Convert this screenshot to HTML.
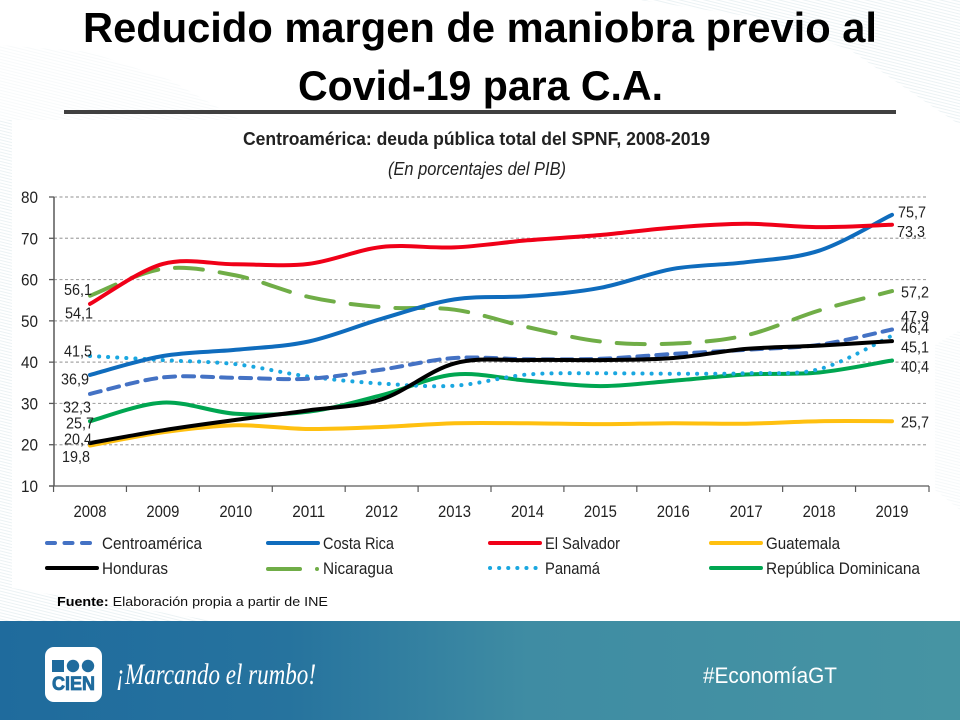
<!DOCTYPE html>
<html lang="es">
<head>
<meta charset="utf-8">
<title>Reducido margen de maniobra previo al Covid-19 para C.A.</title>
<style>
html,body{margin:0;padding:0;background:#fff;width:960px;height:720px;overflow:hidden}
svg{display:block}
text{font-family:"Liberation Sans",sans-serif;fill:#222}
</style>
</head>
<body>
<svg id="slide" xmlns="http://www.w3.org/2000/svg" width="960" height="720" viewBox="0 0 960 720">
  <defs>
    <pattern id="hatch" width="6" height="3" patternUnits="userSpaceOnUse" patternTransform="rotate(14)">
      <rect width="6" height="1" fill="#e3ecef"/>
    </pattern>
    <linearGradient id="footerGrad" x1="0" x2="1" y1="0" y2="0">
      <stop offset="0" stop-color="#1f6b9d"/>
      <stop offset="0.3" stop-color="#26739e"/>
      <stop offset="0.55" stop-color="#3f8ca3"/>
      <stop offset="1" stop-color="#4694a3"/>
    </linearGradient>
  </defs>
  <rect width="960" height="720" fill="#fff"/>
  <polygon points="0,45 90,52 170,80 240,120 0,120" fill="url(#hatch)" opacity=".3"/>
  <polygon points="640,0 960,0 960,125 930,105 850,50 760,18" fill="url(#hatch)" opacity=".7"/>
  <polygon points="0,120 12,120 12,588 215,621 0,621" fill="url(#hatch)" opacity=".7"/>
  <polygon points="935,345 960,330 960,510 935,490" fill="url(#hatch)" opacity=".35"/>

  <text x="83" y="42" font-size="42" font-weight="700" textLength="794" lengthAdjust="spacingAndGlyphs" style="fill:#000">Reducido margen de maniobra previo al</text>
  <text x="298" y="100" font-size="42" font-weight="700" textLength="365" lengthAdjust="spacingAndGlyphs" style="fill:#000">Covid-19 para C.A.</text>
  <rect x="64" y="110" width="832" height="4" fill="#404040"/>

  <rect x="12" y="120" width="923" height="468" fill="#fff"/>
  <text x="243" y="145" font-size="18" font-weight="700" textLength="467" lengthAdjust="spacingAndGlyphs">Centroamérica: deuda pública total del SPNF, 2008-2019</text>
  <text x="388" y="175" font-size="18" font-style="italic" textLength="178" lengthAdjust="spacingAndGlyphs">(En porcentajes del PIB)</text>

  <g id="grid"></g>
  <g id="axes"></g>
  <g id="lines"></g>
  <g id="labels"></g>

  <g font-size="16.5">
    <g>
      <line x1="47" x2="93" y1="543" y2="543" stroke="#4472c4" stroke-width="4" stroke-linecap="round" stroke-dasharray="8 9.5"/>
      <text x="102" y="549" textLength="100" lengthAdjust="spacingAndGlyphs">Centroamérica</text>
    </g>
    <g>
      <line x1="268" x2="318" y1="543" y2="543" stroke="#0f6cbd" stroke-width="4" stroke-linecap="round"/>
      <text x="323" y="549" textLength="71" lengthAdjust="spacingAndGlyphs">Costa Rica</text>
    </g>
    <g>
      <line x1="490" x2="540" y1="543" y2="543" stroke="#f00018" stroke-width="4" stroke-linecap="round"/>
      <text x="545" y="549" textLength="75" lengthAdjust="spacingAndGlyphs">El Salvador</text>
    </g>
    <g>
      <line x1="711" x2="761" y1="543" y2="543" stroke="#ffc010" stroke-width="4" stroke-linecap="round"/>
      <text x="766" y="549" textLength="74" lengthAdjust="spacingAndGlyphs">Guatemala</text>
    </g>
    <g>
      <line x1="47" x2="97" y1="568" y2="568" stroke="#000" stroke-width="4" stroke-linecap="round"/>
      <text x="102" y="574" textLength="66" lengthAdjust="spacingAndGlyphs">Honduras</text>
    </g>
    <g>
      <line x1="268" x2="300" y1="569" y2="569" stroke="#70ad47" stroke-width="4" stroke-linecap="round"/>
      <circle cx="317" cy="569" r="2" fill="#70ad47"/>
      <text x="323" y="574" textLength="70" lengthAdjust="spacingAndGlyphs">Nicaragua</text>
    </g>
    <g>
      <line x1="490" x2="537" y1="568" y2="568" stroke="#1aa7e0" stroke-width="4" stroke-linecap="round" stroke-dasharray="0.1 9"/>
      <text x="545" y="574" textLength="55" lengthAdjust="spacingAndGlyphs">Panamá</text>
    </g>
    <g>
      <line x1="711" x2="761" y1="568" y2="568" stroke="#00a651" stroke-width="4" stroke-linecap="round"/>
      <text x="766" y="574" textLength="154" lengthAdjust="spacingAndGlyphs">República Dominicana</text>
    </g>
  </g>

  <text x="57" y="606" font-size="13" textLength="271" lengthAdjust="spacingAndGlyphs" style="fill:#111"><tspan font-weight="700" style="fill:#000">Fuente:</tspan> Elaboración propia a partir de INE</text>

  <rect x="0" y="621" width="960" height="99" fill="url(#footerGrad)"/>
  <g>
    <rect x="45" y="647" width="57" height="55" rx="9" fill="#fff"/>
    <rect x="52" y="660" width="12" height="12" fill="#1f6b9d"/>
    <circle cx="73" cy="666" r="6.2" fill="#1f6b9d"/>
    <circle cx="88" cy="666" r="6.2" fill="#1f6b9d"/>
    <text x="52" y="690" font-size="19" font-weight="700" textLength="43" lengthAdjust="spacingAndGlyphs" style="fill:#1f6b9d;stroke:#1f6b9d;stroke-width:.8">CIEN</text>
  </g>
  <text x="116" y="684" font-size="30" textLength="200" lengthAdjust="spacingAndGlyphs" style="fill:#fff;font-family:'Liberation Serif',serif;font-style:italic">¡Marcando el rumbo!</text>
  <text x="703" y="683" font-size="22" textLength="134" lengthAdjust="spacingAndGlyphs" style="fill:#fff">#EconomíaGT</text>
</svg>

<script>
const years = [2008,2009,2010,2011,2012,2013,2014,2015,2016,2017,2018,2019];
const yTicks = [10,20,30,40,50,60,70,80];
const guatemala = [19.8,23.0,24.7,23.8,24.3,25.2,25.2,25.0,25.2,25.1,25.7,25.7];
const republicaDominicana = [25.7,30.2,27.5,28.0,32.0,37.0,35.5,34.2,35.5,37.0,37.5,40.4];
const panama = [41.5,40.5,39.5,36.5,34.8,34.3,37.0,37.3,37.2,37.3,38.3,46.4];
const centroamerica = [32.3,36.3,36.2,36.0,38.2,41.0,40.7,40.8,42.0,43.0,44.2,47.9];
const nicaragua = [56.1,62.6,61.0,55.8,53.3,52.7,48.5,45.0,44.5,46.5,52.5,57.2];
const costaRica = [36.9,41.5,43.0,45.0,50.5,55.2,56.0,58.0,62.6,64.2,67.0,75.7];
const elSalvador = [54.1,63.8,63.7,63.8,67.9,67.8,69.5,70.8,72.6,73.5,72.7,73.3];
const honduras = [20.4,23.5,26.0,28.3,31.0,39.7,40.5,40.5,41.0,43.2,44.0,45.1];

const NS = 'http://www.w3.org/2000/svg';
function yScale(v){ return 197 + (80 - v) * (289 / 70); }
function xScale(i){ return 90 + i * (802 / 11); }
function make(tag, attrs, parent){
  const el = document.createElementNS(NS, tag);
  for (const k in attrs) el.setAttribute(k, attrs[k]);
  parent.appendChild(el);
  return el;
}
function smoothPath(vals){
  const p = vals.map((v,i)=>[xScale(i), yScale(v)]);
  let d = 'M' + p[0][0].toFixed(1) + ' ' + p[0][1].toFixed(1);
  for (let i = 0; i < p.length - 1; i++){
    const a = p[Math.max(i-1,0)], b = p[i], c = p[i+1], e = p[Math.min(i+2,p.length-1)];
    const c1x = b[0] + (c[0]-a[0])/6, c1y = b[1] + (c[1]-a[1])/6;
    const c2x = c[0] - (e[0]-b[0])/6, c2y = c[1] - (e[1]-b[1])/6;
    d += 'C' + c1x.toFixed(1) + ' ' + c1y.toFixed(1) + ' ' + c2x.toFixed(1) + ' ' + c2y.toFixed(1) + ' ' + c[0].toFixed(1) + ' ' + c[1].toFixed(1);
  }
  return d;
}
function fmt(v){ return v.toFixed(1).replace('.', ','); }

const grid = document.getElementById('grid');
const axes = document.getElementById('axes');
const linesG = document.getElementById('lines');
const labelsG = document.getElementById('labels');

yTicks.forEach(function(t){
  const y = yScale(t);
  if (t > 10){
    const g = make('line', {x1:54, x2:927, y1:y, y2:y, stroke:'#a6a6a6', 'stroke-width':1.2, 'stroke-dasharray':'3 2.5'}, grid);
    
    
  }
  const tick = make('line', {x1:49, x2:54, y1:y, y2:y, stroke:'#595959', 'stroke-width':1.3}, axes);
  
  
  const lab = make('text', {x:38, y:y+6, 'font-size':16.5, 'text-anchor':'end', textLength:17, lengthAdjust:'spacingAndGlyphs'}, axes);
  
  
  lab.textContent = t;
});
const yAxis = make('line', {x1:54, x2:54, y1:197, y2:486, stroke:'#595959', 'stroke-width':1.5}, axes);


const xAxis = make('line', {x1:49, x2:929, y1:yScale(10), y2:yScale(10), stroke:'#595959', 'stroke-width':1.3}, axes);


years.forEach(function(yr, i){
  const bx = xScale(i) - 401 / 11;
  const tick = make('line', {x1:bx, x2:bx, y1:486, y2:492, stroke:'#595959', 'stroke-width':1.2}, axes);
  
  
  const lab = make('text', {x:xScale(i), y:517, 'font-size':16.5, 'text-anchor':'middle', textLength:33, lengthAdjust:'spacingAndGlyphs'}, axes);
  
  
  lab.textContent = yr;
});
const lastTick = make('line', {x1:929, x2:929, y1:486, y2:492, stroke:'#595959', 'stroke-width':1.2}, axes);



function drawSeries(name, vals, color, dash){
  const path = make('path', {d:smoothPath(vals), fill:'none', stroke:color, 'stroke-width':4, 'stroke-linecap':'round', 'stroke-linejoin':'round'}, linesG);
  if (dash) path.setAttribute('stroke-dasharray', dash);
  
  
}
drawSeries('guatemala', guatemala, '#ffc010');
drawSeries('republica-dominicana', republicaDominicana, '#00a651');
drawSeries('panama', panama, '#1aa7e0', '0.1 9');
drawSeries('centroamerica', centroamerica, '#4472c4', '11 8');
drawSeries('nicaragua', nicaragua, '#70ad47', '28 17');
drawSeries('costa-rica', costaRica, '#0f6cbd');
drawSeries('el-salvador', elSalvador, '#f00018');
drawSeries('honduras', honduras, '#000000');

function drawLabel(name, side, value, anchorX, dy){
  const t = make('text', {x:anchorX, y:yScale(value)+dy+5.5, 'font-size':16, 'text-anchor':side === 'start' ? 'end' : 'start', textLength:28, lengthAdjust:'spacingAndGlyphs'}, labelsG);
  
  
  t.textContent = fmt(value);
}
drawLabel('nicaragua', 'start', nicaragua[0], 92, -6);
drawLabel('el-salvador', 'start', elSalvador[0], 93, 9);
drawLabel('panama', 'start', panama[0], 92, -5);
drawLabel('costa-rica', 'start', costaRica[0], 89, 4);
drawLabel('centroamerica', 'start', centroamerica[0], 91, 13);
drawLabel('republica-dominicana', 'start', republicaDominicana[0], 94, 2);
drawLabel('honduras', 'start', honduras[0], 92, -4);
drawLabel('guatemala', 'start', guatemala[0], 90, 11);
drawLabel('costa-rica', 'end', costaRica[11], 898, -3);
drawLabel('el-salvador', 'end', elSalvador[11], 897, 7);
drawLabel('nicaragua', 'end', nicaragua[11], 901, 1);
drawLabel('centroamerica', 'end', centroamerica[11], 901, -13);
drawLabel('panama', 'end', panama[11], 901, -8);
drawLabel('honduras', 'end', honduras[11], 901, 6);
drawLabel('republica-dominicana', 'end', republicaDominicana[11], 901, 6);
drawLabel('guatemala', 'end', guatemala[11], 901, 1);
</script>
</body>
</html>
